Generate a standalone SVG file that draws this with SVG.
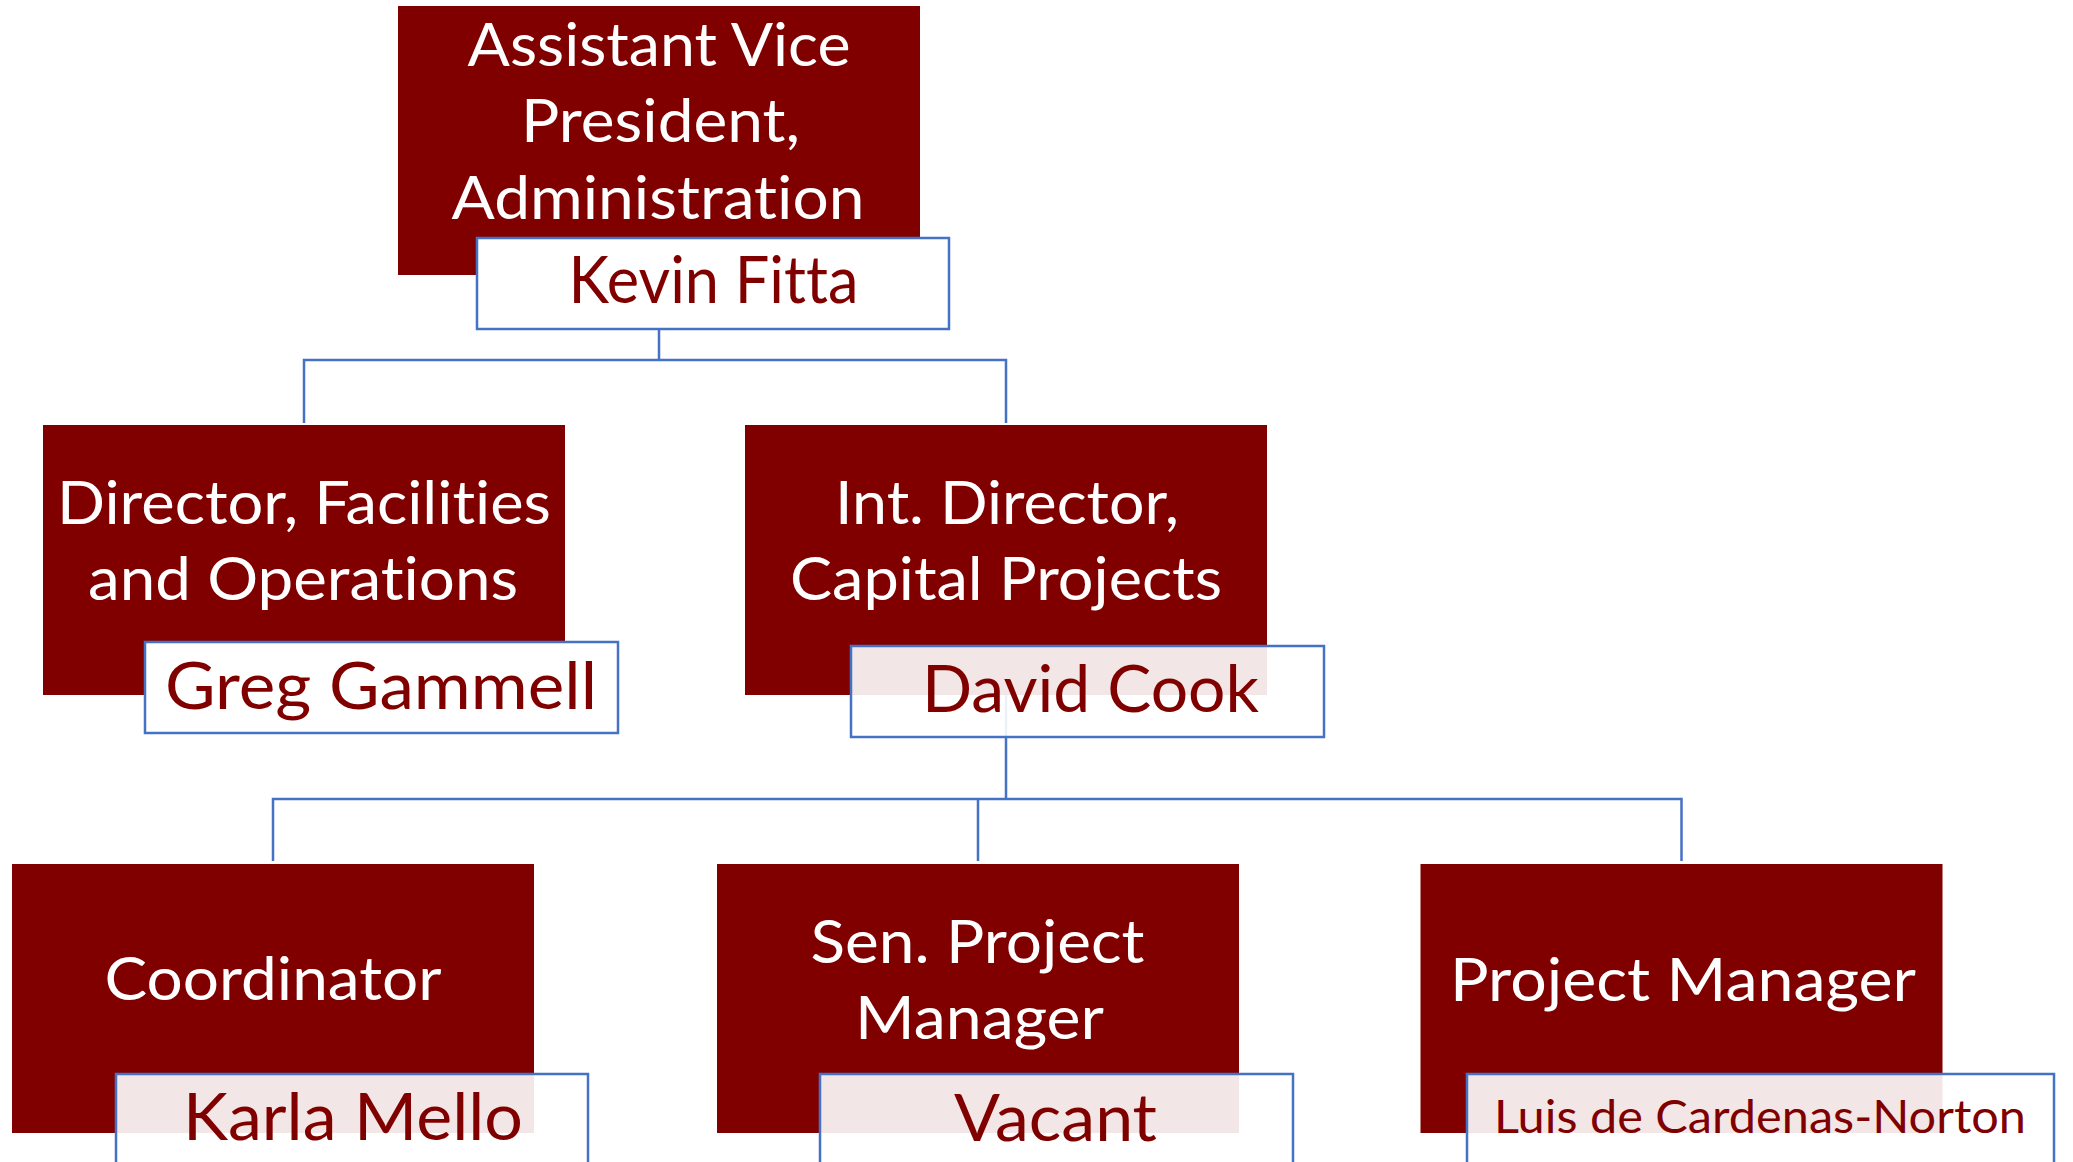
<svg xmlns="http://www.w3.org/2000/svg" width="2073" height="1162" viewBox="0 0 2073 1162">
<style>
.bg{fill:#ffffff}
.role{fill:#800000}
.name{fill:#ffffff;stroke:#4472C4;stroke-width:2.5}
.name.t{fill-opacity:0.9}
.conn{fill:none;stroke:#4472C4;stroke-width:2.5}
.rt{font-family:Lato,"Noto Sans","Liberation Sans",sans-serif;font-size:60px;fill:#ffffff;text-anchor:middle;font-variant-ligatures:none;font-feature-settings:"liga" 0,"clig" 0,"dlig" 0}
.nt{font-family:Lato,"Noto Sans","Liberation Sans",sans-serif;font-size:65px;fill:#800000;text-anchor:middle;font-variant-ligatures:none;font-feature-settings:"liga" 0,"clig" 0,"dlig" 0}
.st{font-size:46px}
</style>
<rect class="bg" x="0" y="0" width="2073" height="1162"/>
<g id="connectors">
<path class="conn" d="M659,329 V360 H304 V423 M659,360 H1006 V423"/>
<path class="conn" d="M1006,695 V799 H273 V861 M1006,799 H1681.5 V861 M978,799 V861"/>
</g>
<g id="node-avp">
<rect class="role" x="398" y="6" width="522" height="269"/>
<text class="rt" x="659" y="66" textLength="383" lengthAdjust="spacingAndGlyphs">Assistant Vice</text>
<text class="rt" x="660.5" y="142" textLength="279" lengthAdjust="spacingAndGlyphs">President,</text>
<text class="rt" x="658" y="219" textLength="413" lengthAdjust="spacingAndGlyphs">Administration</text>
<rect class="name" x="477" y="238" width="472" height="91"/>
<text class="nt" x="713.5" y="303" textLength="290" lengthAdjust="spacingAndGlyphs">Kevin Fitta</text>
</g>
<g id="node-dfo">
<rect class="role" x="43" y="425" width="522" height="270"/>
<text class="rt" x="304" y="524" textLength="494" lengthAdjust="spacingAndGlyphs">Director, Facilities</text>
<text class="rt" x="303" y="600" textLength="430" lengthAdjust="spacingAndGlyphs">and Operations</text>
<rect class="name" x="145" y="642" width="473" height="91"/>
<text class="nt" x="381" y="709" textLength="432" lengthAdjust="spacingAndGlyphs">Greg Gammell</text>
</g>
<g id="node-idcp">
<rect class="role" x="745" y="425" width="522" height="270"/>
<text class="rt" x="1007" y="524" textLength="344" lengthAdjust="spacingAndGlyphs">Int. Director,</text>
<text class="rt" x="1006" y="600" textLength="432" lengthAdjust="spacingAndGlyphs">Capital Projects</text>
<rect class="name t" x="851" y="646" width="473" height="91"/>
<text class="nt" x="1090.5" y="712" textLength="337" lengthAdjust="spacingAndGlyphs">David Cook</text>
</g>
<g id="node-coord">
<rect class="role" x="12" y="864" width="522" height="269"/>
<text class="rt" x="273" y="1000" textLength="337" lengthAdjust="spacingAndGlyphs">Coordinator</text>
<rect class="name t" x="116" y="1074" width="472" height="91"/>
<text class="nt" x="353" y="1140" textLength="340" lengthAdjust="spacingAndGlyphs">Karla Mello</text>
</g>
<g id="node-spm">
<rect class="role" x="717" y="864" width="522" height="269"/>
<text class="rt" x="977.5" y="963" textLength="334" lengthAdjust="spacingAndGlyphs">Sen. Project</text>
<text class="rt" x="979.5" y="1039" textLength="249" lengthAdjust="spacingAndGlyphs">Manager</text>
<rect class="name t" x="820" y="1074" width="473" height="91"/>
<text class="nt" x="1055.5" y="1141" textLength="203" lengthAdjust="spacingAndGlyphs">Vacant</text>
</g>
<g id="node-pm">
<rect class="role" x="1420.5" y="864" width="522" height="269"/>
<text class="rt" x="1683" y="1001" textLength="466" lengthAdjust="spacingAndGlyphs">Project Manager</text>
<rect class="name t" x="1467" y="1074" width="587" height="91"/>
<text class="nt st" x="1760" y="1133" textLength="532" lengthAdjust="spacingAndGlyphs">Luis de Cardenas-Norton</text>
</g>
</svg>
